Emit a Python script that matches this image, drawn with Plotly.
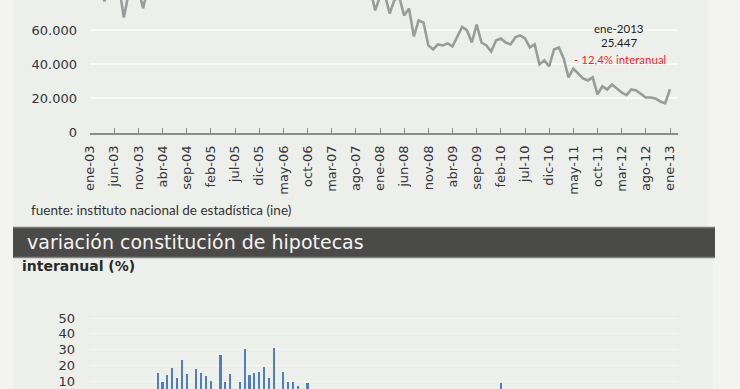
import plotly.graph_objects as go

W, H = 740, 389

# ---------------- data ----------------
month_idx = list(range(121))  # ene-03 .. ene-13
hipotecas = [
    80000, 84000, 88000, 77000, 90000, 92000, 86000, 67600, 82000, 88000, 84000, 73000,
    86000, 90000, 98000, 96000, 102000, 104000, 100000, 85000, 97000, 98000, 98000, 88000,
    96000, 100000, 100000, 110000, 112000, 114000, 106000, 93000, 112000, 112000, 113000, 102000,
    114000, 112000, 122000, 110000, 130000, 124000, 116000, 99000, 115000, 122000, 112000, 98000,
    110000, 104000, 112000, 96000, 110000, 103000, 100000, 86000, 92000, 90000, 84000, 71800,
    80000, 81000, 70000, 78000, 79500, 68800, 72900, 56500, 65900, 64700, 51200, 48800,
    51800, 51200, 52400, 50600, 56500, 62000, 60000, 52900, 63500, 52900, 51200, 47600,
    54100, 55300, 52900, 51800, 55900, 57100, 55300, 50000, 51800, 40000, 42400, 38800,
    48800, 50000, 43500, 32400, 37600, 34700, 31800, 30600, 32400, 22400, 27100, 25300,
    28200, 25900, 23500, 22000, 25300, 24700, 22900, 20600, 20600, 20000, 18200, 17100,
    25447,
]

tick_pos = list(range(0, 121, 5))
tick_labels = [
    "ene-03", "jun-03", "nov-03", "abr-04", "sep-04", "feb-05", "jul-05", "dic-05",
    "may-06", "oct-06", "mar-07", "ago-07", "ene-08", "jun-08", "nov-08", "abr-09",
    "sep-09", "feb-10", "jul-10", "dic-10", "may-11", "oct-11", "mar-12", "ago-12", "ene-13",
]

var_idx = list(range(12, 121))  # ene-04 .. ene-13
var_interanual = [
    3.0, 2.0, 15.3, 9.2, 13.8, 18.3, 12.1, 23.5, 14.6, 3.5, 17.4, 15.3,
    13.2, 10.0, 4.0, 26.5, 9.2, 14.4, 2.5, 9.2, 30.3, 13.8, 15.1, 15.9,
    18.7, 12.1, 31.1, 3.0, 15.9, 9.2, 9.2, 7.0, 2.0, 8.5, -2.0, 1.0,
    -4.0, -7.0, -9.0, -14.0, -17.0, -19.0, -25.0, -13.0, -22.0, -25.0, -25.0, -27.0,
    -28.0, -24.0, -37.0, -21.0, -38.0, -31.0, -28.0, -37.0, -35.0, -29.0, -40.0, -32.0,
    -35.0, -36.0, -25.0, -27.0, -28.0, -10.0, -8.0, -14.0, -3.0, -20.0, -2.0, -5.0,
    4.0, 8.5, -3.0, 1.0, -12.0, -3.0, -3.0, -17.0, -7.0, -25.0, -17.0, -26.0,
    -11.0, -10.0, -21.0, -45.0, -33.0, -38.0, -35.0, -35.0, -26.0, -44.0, -33.0, -35.0,
    -42.0, -23.0, -33.0, -30.0, -22.0, -29.0, -29.0, -32.0, -26.0, -18.0, -29.0, -33.0,
    -12.4,
]

y_top_ticks = [0, 20000, 40000, 60000]
y_top_labels = ["0", "20.000", "40.000", "60.000"]
y_bot_ticks = [10, 20, 30, 40, 50]

# ---------------- helpers ----------------
def px(x):
    return x / W

def py(y):
    return 1 - y / H

PANEL = "#edf0ea"
OUTER = "#f3f3ef"
TXT = "#34343f"
FONT = "DejaVu Sans"

x_left, x_right = 90, 678
x_range = [0, (x_right - x_left) / 4.8333]
top_bottom_px = 132.5
bot_top_px = 300

fig = go.Figure()

fig.add_trace(go.Scatter(
    x=month_idx, y=hipotecas, mode="lines",
    line=dict(color="#9b9b9b", width=2.6),
    xaxis="x", yaxis="y", hoverinfo="skip", showlegend=False,
))

fig.add_trace(go.Bar(
    x=var_idx, y=var_interanual, width=0.45,
    marker=dict(color="#4f7fc0", line=dict(width=0)),
    xaxis="x2", yaxis="y2", hoverinfo="skip", showlegend=False,
))

# ---------------- layout ----------------
fig.update_layout(
    width=W, height=H,
    margin=dict(l=0, r=0, t=0, b=0, pad=0, autoexpand=False),
    paper_bgcolor=OUTER,
    plot_bgcolor="rgba(0,0,0,0)",
    bargap=0,
    xaxis=dict(
        domain=[px(x_left), px(x_right)], range=x_range,
        tickmode="array", tickvals=tick_pos, ticktext=tick_labels,
        tickangle=-90, tickfont=dict(family=FONT, size=13, color=TXT),
        ticks="inside", ticklen=5, tickcolor="#8c8c8c", tickwidth=1,
        showline=True, linecolor="#8c8c8c", linewidth=1.5,
        showgrid=False, zeroline=False, anchor="y",
        ticklabelstandoff=6, automargin=False,
    ),
    yaxis=dict(
        domain=[py(top_bottom_px), 1], range=[0, 77900],
        tickmode="array", tickvals=y_top_ticks, ticktext=y_top_labels,
        tickfont=dict(family=FONT, size=13, color=TXT),
        showgrid=True, gridcolor="#f9f9f6", gridwidth=2,
        zeroline=False, showline=False, ticks="", anchor="x",
        ticklabelstandoff=12, automargin=False,
    ),
    xaxis2=dict(
        domain=[px(x_left), px(x_right)], range=x_range,
        showticklabels=False, showgrid=False, zeroline=False, showline=False,
        ticks="", anchor="y2", automargin=False,
    ),
    yaxis2=dict(
        domain=[0, py(bot_top_px)],
        range=[(396.75 - H) / 1.575, (396.75 - bot_top_px) / 1.575],
        tickmode="array", tickvals=y_bot_ticks,
        tickfont=dict(family=FONT, size=13, color=TXT),
        showgrid=True, gridcolor="#f6f7f3", gridwidth=1,
        zeroline=False, showline=False, ticks="", anchor="x2",
        ticklabelstandoff=14, automargin=False,
    ),
    shapes=[
        dict(type="rect", xref="paper", yref="paper", x0=px(13), x1=px(708), y0=py(227), y1=1,
             fillcolor=PANEL, line=dict(width=0), layer="below"),
        dict(type="rect", xref="paper", yref="paper", x0=px(13), x1=px(713), y0=0, y1=py(258),
             fillcolor=PANEL, line=dict(width=0), layer="below"),
        dict(type="rect", xref="paper", yref="paper", x0=px(13), x1=px(715), y0=py(258), y1=py(227),
             fillcolor="#4a4a48", line=dict(width=0), layer="below"),
        dict(type="line", xref="paper", yref="paper", x0=px(13), x1=px(715), y0=py(227.5), y1=py(227.5),
             line=dict(color="#7a7a76", width=1.5), layer="below"),
        dict(type="line", xref="paper", yref="paper", x0=px(13), x1=px(715), y0=py(257.5), y1=py(257.5),
             line=dict(color="#85857f", width=1.5), layer="below"),
    ],
    annotations=[
        dict(text="ene-2013", xref="paper", yref="paper", x=px(619), y=py(29),
             showarrow=False, xanchor="center", yanchor="middle",
             font=dict(family="Lato", size=11.5, color="#1e1e1e")),
        dict(text="25.447", xref="paper", yref="paper", x=px(619), y=py(43),
             showarrow=False, xanchor="center", yanchor="middle",
             font=dict(family="Lato", size=11.5, color="#1e1e1e")),
        dict(text="- 12,4% interanual", xref="paper", yref="paper", x=px(620), y=py(59),
             showarrow=False, xanchor="center", yanchor="middle",
             font=dict(family="Lato", size=11.5, color="#ff2424")),
        dict(text="fuente: instituto nacional de estadística (ine)", xref="paper", yref="paper",
             x=px(29), y=py(210), showarrow=False, xanchor="left", yanchor="middle",
             font=dict(family="Lato", size=13.5, color="#333333")),
        dict(text="variación constitución de hipotecas", xref="paper", yref="paper",
             x=px(25), y=py(242), showarrow=False, xanchor="left", yanchor="middle",
             font=dict(family=FONT, size=19, color="#f4f4f2")),
        dict(text="<b>interanual (%)</b>", xref="paper", yref="paper",
             x=px(20), y=py(266), showarrow=False, xanchor="left", yanchor="middle",
             font=dict(family=FONT, size=14, color="#2a2a2a")),
    ],
)

fig.write_html("out.html", config={"displayModeBar": False})
